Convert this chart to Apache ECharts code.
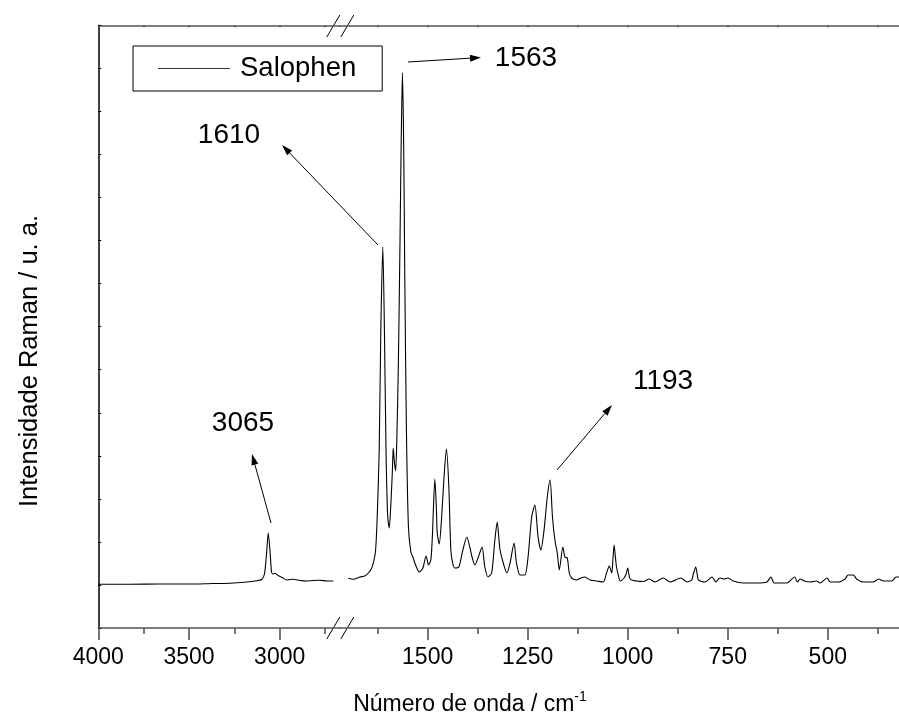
<!DOCTYPE html>
<html><head><meta charset="utf-8">
<script src="https://cdn.jsdelivr.net/npm/echarts@6/dist/echarts.min.js"></script>
<style>html,body{margin:0;padding:0;background:#fff}#c{width:899px;height:721px}</style>
</head><body><div id="c"></div>
<script>
// ---- data (wavenumber in cm-1, intensity in arbitrary units) ----
const wavenumberHigh = [4000,3825,3660,3494,3368,3274,3182,3127,3099,3084,3073,3063,3053,3045,3037,3026,3009,2987,2961,2943,2925,2888,2851,2816,2778,2739,2704];
const intensityHigh  = [43.7,43.7,44,44,44.5,44.7,46,47.3,48.5,54,73,95,76,56,54,54.7,52.5,50.5,48,48.5,48.7,47.5,47,47.5,47.7,47,47];

const wavenumberLow = [1698,1686,1669,1657,1648,1640,1634,1630,1626,1621,1617,1612,1608,1604,1600,1596,1592,1588,1586,1583,1580,1577,1573,1569,1566,1563,1560,1557,1553,1548,1542,1537,1532,1527,1521,1515,1511,1504,1501,1498,1492,1488,1486,1482,1478,1476,1471,1465,1459,1453,1447,1442,1437,1432,1422,1412,1402,1394,1389,1382,1374,1364,1357,1349,1340,1332,1326,1322,1319,1311,1302,1294,1284,1278,1269,1257,1249,1240,1232,1224,1217,1209,1201,1194,1188,1182,1176,1171,1162,1157,1151,1146,1140,1128,1117,1107,1094,1077,1061,1053,1046,1040,1037,1034,1031,1028,1023,1019,1009,1004,1000,994,978,961,946,932,911,894,867,852,840,836,830,826,823,807,789,780,769,759,749,736,711,678,652,642,634,602,583,576,569,559,544,529,519,502,494,473,457,449,436,428,411,386,373,361,340,329,322];
const intensityLow  = [49.7,48.7,51,52,55,59.7,68,78,111,178,298,381,298,178,113,100,123,158,180,166,157,188,268,388,488,555.5,488,348,198,101,76,71,65,60,56,58,61,72,68,63,68,93,115,149,118,95,84,111,151,179,141,78,64,60,61,78,91,80,71,63,70,81,61,51,55,88,106,90,78,65,55,65,85,65,53,53,71,111,123,91,78,98,131,148,111,88,75,58,81,71,70,55,50,48,50,51,48,47,46,55,62,55,68,83,72,61,52,47,50,54,60,49,47,46.5,49,46,50,46,50,46,48,54,61,53,48,46,51,46,50,49,50,47,45,45,46,51,45,45,51,46,49,47,46,47,45,50,46,46,49,53,53,49,46,46,49,47,47,51,51];

const ticksHighMajor = [3000, 3500, 4000];
const ticksHighMinor = [2750, 3250, 3750];
const ticksLowMajor  = [500, 750, 1000, 1250, 1500];
const ticksLowMinor  = [375, 625, 875, 1125, 1375, 1625];
const peakLabels = ['3065', '1610', '1563', '1193'];
const seriesName = 'Salophen';
const yTitle = 'Intensidade Raman / u. a.';
const xTitle = 'Número de onda / cm';
const xTitleSup = '-1';

// ---- chart ----
const FONT = '"Liberation Sans", Arial, Helvetica, sans-serif';
const hiMin = 2667.5, hiMax = 4000, loMin = 322, loMax = 1719;
const yMax = 602.7, yStep = 43.05;
const axisCol = '#555';

const grids = [
  {left: 98.3, top: 25.3, width: 241.7, height: 602.7},
  {left: 340, top: 25.3, width: 559, height: 602.7}
];

function xa(grid, pos, min, max, ticks, len, inside, labels, showLine) {
  return {
    type: 'value', gridIndex: grid, position: pos, inverse: true, min: min, max: max,
    axisLine: {show: showLine, onZero: false, lineStyle: {color: axisCol, width: 1.6}},
    axisTick: {show: true, inside: inside, length: len, customValues: ticks, lineStyle: {color: axisCol, width: 1.6}},
    axisLabel: labels ? {show: true, customValues: ticks, color: '#000', fontSize: 23, fontFamily: FONT, margin: 18,
                         formatter: v => String(Math.round(v))} : {show: false},
    splitLine: {show: false}
  };
}

const xAxes = [
  xa(0, 'bottom', hiMin, hiMax, ticksHighMajor, 12, false, true, true),
  xa(1, 'bottom', loMin, loMax, ticksLowMajor, 12, false, true, true),
  xa(0, 'bottom', hiMin, hiMax, ticksHighMinor, 6, false, false, false),
  xa(1, 'bottom', loMin, loMax, ticksLowMinor, 6, false, false, false),
  xa(0, 'top', hiMin, hiMax, ticksHighMajor.concat(ticksHighMinor), 2, true, false, true),
  xa(1, 'top', loMin, loMax, ticksLowMajor.concat(ticksLowMinor), 2, true, false, true)
];

const yAxes = [
  {type: 'value', gridIndex: 0, min: 0, max: yMax, interval: yStep,
   axisLine: {show: true, lineStyle: {color: '#000', width: 1.5}},
   axisTick: {show: true, inside: true, length: 3, lineStyle: {color: '#000'}},
   axisLabel: {show: false}, splitLine: {show: false}},
  {type: 'value', gridIndex: 1, min: 0, max: yMax, interval: yStep, show: false, splitLine: {show: false}}
];

function zip(a, b) { return a.map((v, i) => [v, b[i]]); }

const lineStyle = {color: '#000', width: 1.1};
const series = [
  {name: seriesName, type: 'line', xAxisIndex: 0, yAxisIndex: 0, data: zip(wavenumberHigh, intensityHigh),
   symbol: 'none', smooth: 0.25, lineStyle: lineStyle, itemStyle: {color: '#000'}},
  {name: seriesName, type: 'line', xAxisIndex: 1, yAxisIndex: 1, data: zip(wavenumberLow, intensityLow),
   symbol: 'none', smooth: 0.25, lineStyle: lineStyle, itemStyle: {color: '#000'}}
];

// annotation decorations (pixel positions of labels and arrows)
const annot = [
  {text: [243, 423], tail: [271, 523], head: [252, 454]},
  {text: [229, 135], tail: [378, 245], head: [282, 145]},
  {text: [526, 58],  tail: [408, 62],  head: [481, 57.5]},
  {text: [663, 381], tail: [557, 470], head: [612, 405]}
];
const graphic = [];
annot.forEach((a, i) => {
  graphic.push({type: 'text', x: a.text[0], y: a.text[1],
    style: {text: peakLabels[i], fontSize: 28, fontFamily: FONT, fill: '#000', align: 'center', verticalAlign: 'middle'}});
  const dx = a.head[0] - a.tail[0], dy = a.head[1] - a.tail[1];
  const L = Math.hypot(dx, dy), ux = dx / L, uy = dy / L, nx = -uy, ny = ux;
  const hl = 11, hw = 3.5;
  const bx = a.head[0] - ux * hl, by = a.head[1] - uy * hl;
  graphic.push({type: 'line', shape: {x1: a.tail[0], y1: a.tail[1], x2: bx, y2: by},
    style: {stroke: '#000', lineWidth: 1}});
  graphic.push({type: 'polygon', shape: {points: [a.head, [bx + nx * hw, by + ny * hw], [bx - nx * hw, by - ny * hw]]},
    style: {fill: '#000'}});
});
// axis break marks
[[26], [628]].forEach(([yy]) => {
  [333.3, 347.3].forEach(cx => {
    graphic.push({type: 'line', shape: {x1: cx - 6.5, y1: yy + 11, x2: cx + 6.5, y2: yy - 11},
      style: {stroke: '#000', lineWidth: 1}});
  });
});
// axis titles
graphic.push({type: 'text', x: 30, y: 361, rotation: Math.PI / 2,
  style: {text: yTitle, fontSize: 25.5, fontFamily: FONT, fill: '#000', align: 'center', verticalAlign: 'middle'}});
graphic.push({type: 'text', x: 470, y: 705,
  style: {text: '{a|' + xTitle + '}{s|' + xTitleSup + '}', align: 'center', verticalAlign: 'middle',
    rich: {a: {fontSize: 23, fontFamily: FONT, fill: '#000', lineHeight: 30},
           s: {fontSize: 14, fontFamily: FONT, fill: '#000', verticalAlign: 'top', lineHeight: 30, padding: [0, 0, 0, 0]}}}});

const chart = echarts.init(document.getElementById('c'), null, {renderer: 'canvas'});
chart.setOption({
  animation: false,
  backgroundColor: '#fff',
  grid: grids,
  xAxis: xAxes,
  yAxis: yAxes,
  legend: {
    data: [seriesName], left: 133, top: 46, orient: 'horizontal',
    borderColor: '#000', borderWidth: 1, padding: [7, 26, 7, 25],
    icon: 'rect', itemWidth: 72, itemHeight: 1.2, itemStyle: {color: '#333'},
    textStyle: {fontSize: 27.5, fontFamily: FONT, color: '#000', lineHeight: 31, padding: [0, 0, 0, 5]}
  },
  series: series,
  graphic: graphic
});
</script></body></html>
